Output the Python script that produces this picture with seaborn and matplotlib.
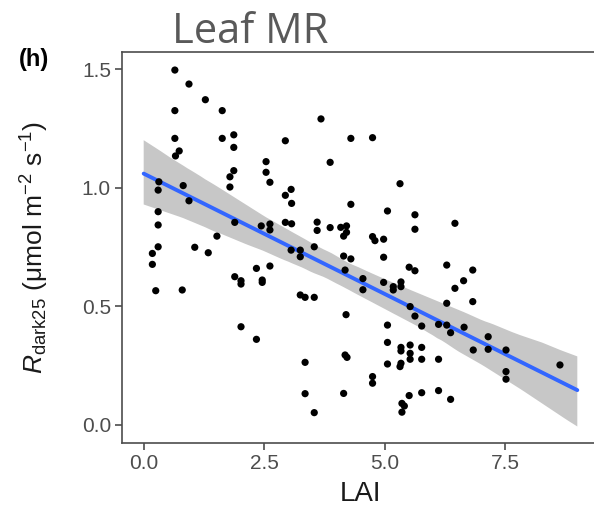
import numpy as np
import pandas as pd
import matplotlib
matplotlib.use("Agg")
import matplotlib.pyplot as plt
import seaborn as sns

# Data
lai = [0.647, 0.94, 1.28, 0.647, 1.63, 0.647, 1.63, 1.87, 1.87, 0.737,
       0.66, 1.87, 1.79, 1.79, 0.315, 0.30, 0.82, 0.94, 0.30, 0.30,
       1.89, 1.52, 2.54, 2.54, 2.62, 2.44, 2.62, 2.62, 0.30, 1.06,
       0.18, 0.18, 0.25, 1.34, 0.80, 1.89, 2.02, 2.02, 2.34, 2.62,
       2.46, 2.46, 2.02, 2.34, 3.68, 2.94, 4.30, 4.75, 3.87, 5.32,
       3.06, 2.94, 3.07, 4.30, 5.06, 5.63, 5.63, 2.94, 3.07, 3.60,
       3.60, 3.87, 4.09, 4.21, 4.21, 4.15, 4.75, 4.80, 4.98, 3.54,
       3.06, 3.25, 3.25, 4.15, 4.30, 4.18, 4.98, 4.55, 4.55, 4.98,
       5.18, 5.18, 5.34, 5.34, 5.51, 5.63, 5.53, 5.63, 5.77, 3.25,
       3.35, 3.54, 4.20, 5.06, 5.06, 5.34, 5.34, 5.53, 5.53, 5.77,
       5.53, 5.77, 5.34, 5.32, 5.06, 3.35, 4.18, 4.22, 4.75, 4.75,
       3.35, 4.15, 5.51, 5.77, 5.36, 5.41, 5.36, 3.54, 6.29, 6.83,
       6.64, 6.46, 6.29, 6.83, 6.12, 6.29, 6.37, 6.65, 7.15, 6.84,
       7.15, 7.52, 7.52, 7.52, 8.64, 6.12, 6.12, 6.37, 6.46]
rdark25 = [1.496, 1.437, 1.371, 1.325, 1.325, 1.208, 1.208, 1.223, 1.170, 1.155,
           1.134, 1.072, 1.046, 1.003, 1.025, 0.990, 1.009, 0.945, 0.899, 0.843,
           0.854, 0.796, 1.110, 1.065, 1.023, 0.839, 0.847, 0.822, 0.751, 0.749,
           0.723, 0.677, 0.566, 0.726, 0.569, 0.625, 0.608, 0.594, 0.660, 0.670,
           0.611, 0.601, 0.414, 0.361, 1.290, 1.198, 1.208, 1.211, 1.107, 1.017,
           0.993, 0.968, 0.934, 0.930, 0.902, 0.886, 0.825, 0.854, 0.848, 0.855,
           0.820, 0.832, 0.833, 0.839, 0.812, 0.796, 0.794, 0.777, 0.783, 0.751,
           0.737, 0.737, 0.709, 0.712, 0.700, 0.653, 0.707, 0.617, 0.570, 0.601,
           0.583, 0.569, 0.603, 0.583, 0.665, 0.650, 0.499, 0.459, 0.417, 0.548,
           0.538, 0.538, 0.465, 0.421, 0.348, 0.327, 0.312, 0.337, 0.302, 0.327,
           0.277, 0.277, 0.260, 0.246, 0.257, 0.264, 0.295, 0.285, 0.204, 0.176,
           0.132, 0.133, 0.124, 0.136, 0.091, 0.080, 0.054, 0.052, 0.674, 0.653,
           0.608, 0.576, 0.513, 0.520, 0.424, 0.421, 0.389, 0.412, 0.372, 0.316,
           0.319, 0.316, 0.225, 0.193, 0.253, 0.277, 0.145, 0.108, 0.850]

xticks = [0.0, 2.5, 5.0, 7.5]
xticklabels = ["0.0", "2.5", "5.0", "7.5"]
yticks = [0.0, 0.5, 1.0, 1.5]
yticklabels = ["0.0", "0.5", "1.0", "1.5"]

df = pd.DataFrame({"LAI": lai, "Rdark25": rdark25})

sns.set_style("ticks")
plt.rcParams['font.family'] = ['Liberation Sans', 'DejaVu Sans']
plt.rcParams['mathtext.fontset'] = 'custom'
plt.rcParams['mathtext.rm'] = 'Liberation Sans'
plt.rcParams['mathtext.it'] = 'Liberation Sans:italic'
plt.rcParams['mathtext.bf'] = 'Liberation Sans:bold'

fig = plt.figure(figsize=(5.94, 5.09), dpi=100)
ax = fig.add_axes([0.2054, 0.1303, 0.803, 0.7675])

# regression line over 0..9 (axis range at fit time)
ax.set_xlim(0.0, 9.0)
sns.regplot(data=df, x="LAI", y="Rdark25", scatter=False, truncate=False,
            ax=ax, color="#3366FF", seed=0, ci=99,
            line_kws=dict(lw=2.8, zorder=2))
for coll in ax.collections:
    coll.set_facecolor("#999999")
    coll.set_alpha(0.55)
    coll.set_edgecolor("none")

sns.scatterplot(data=df, x="LAI", y="Rdark25", ax=ax, color="black", s=27,
                edgecolor="none", linewidth=0, zorder=3)

ax.set_xlim(-0.45, 9.45)
ax.set_ylim(-0.0746, 1.572)
ax.set_xticks(xticks)
ax.set_xticklabels(xticklabels)
ax.set_yticks(yticks)
ax.set_yticklabels(yticklabels)

for s in ax.spines.values():
    s.set_visible(True)
    s.set_color("#4d4d4d")
    s.set_linewidth(1.2)
ax.tick_params(axis="both", length=5, width=1.2, color="#4d4d4d",
               labelcolor="#4d4d4d", labelsize=15, pad=3)

ax.set_xlabel("LAI", fontsize=20, color="#1a1a1a", labelpad=6)
ax.set_ylabel(r"$\mathit{R}_{\mathrm{dark25}}$ ($\mathrm{\mu}$mol m$^{-2}$ s$^{-1}$)",
              fontsize=19, color="#1a1a1a", labelpad=22)

fig.text(0.421, 0.937, "Leaf MR", fontsize=30, color="#595959",
         family=["Open Sans", "DejaVu Sans"], ha="center", va="center")
fig.text(0.057, 0.884, "(h)", fontsize=17, fontweight="bold", color="black",
         ha="center", va="center")

fig.savefig("out.png", dpi=100)
